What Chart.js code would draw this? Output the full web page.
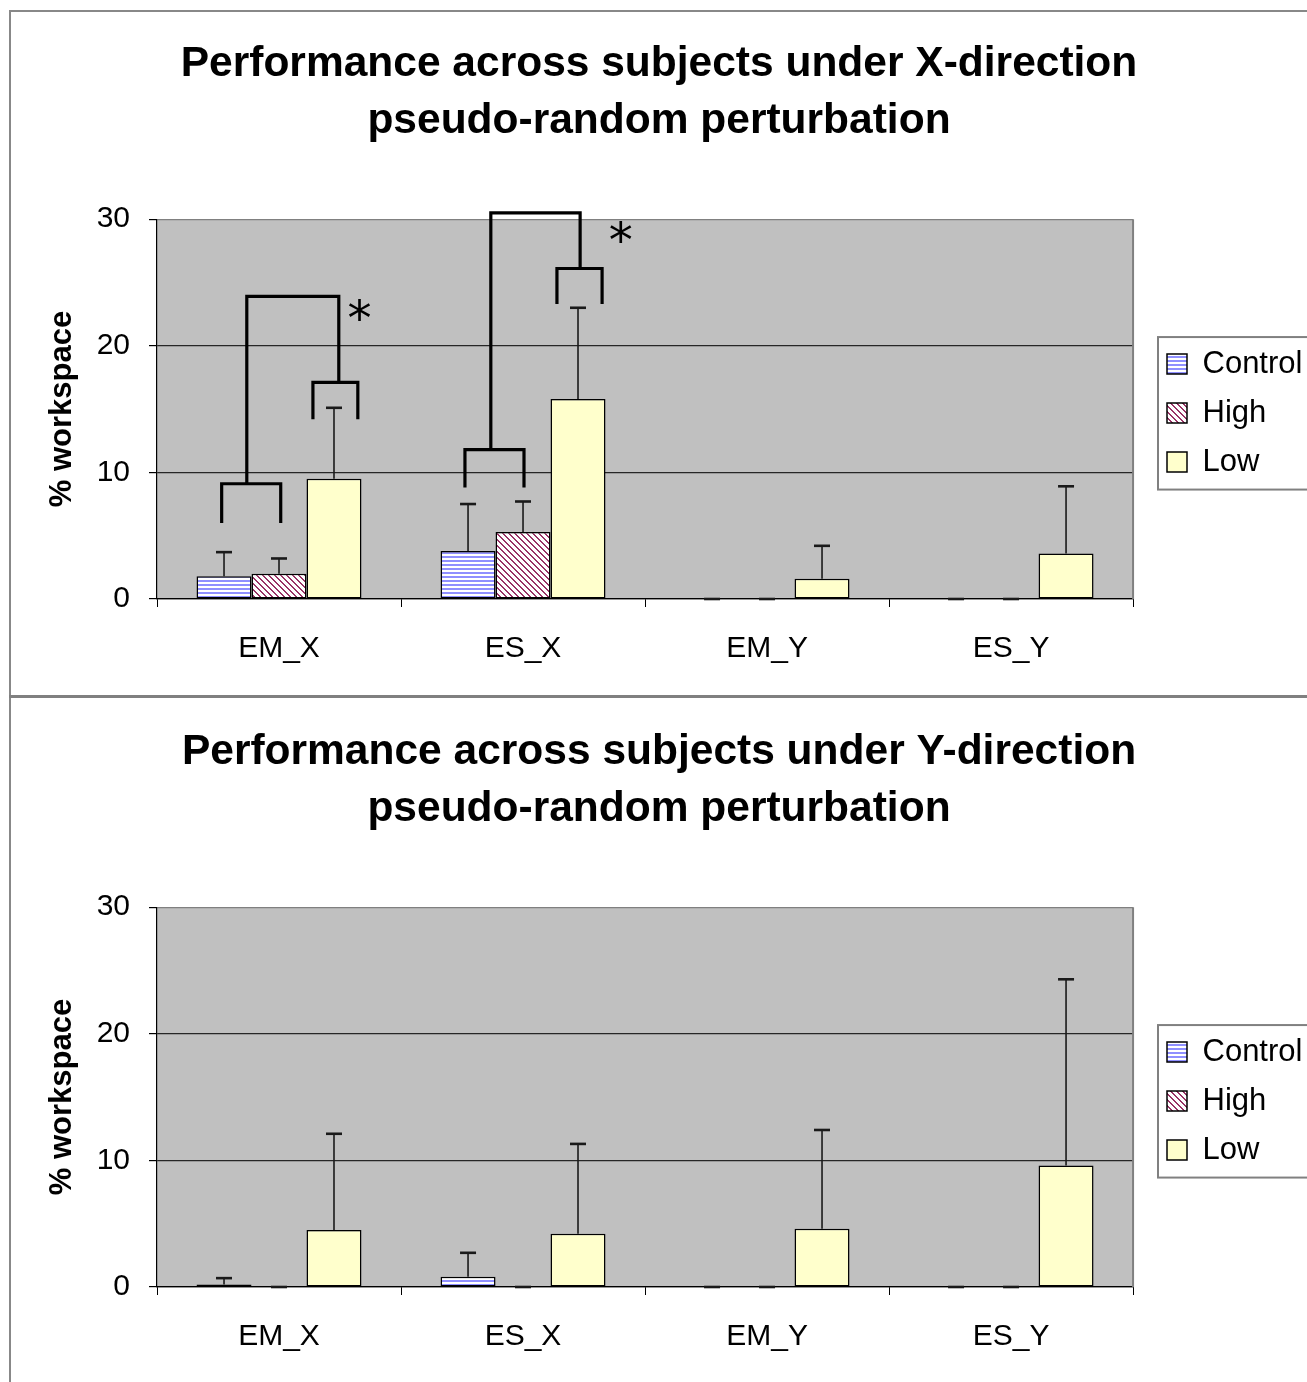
<!DOCTYPE html>
<html>
<head>
<meta charset="utf-8">
<script src="https://cdn.jsdelivr.net/npm/chart.js@4/dist/chart.umd.min.js"></script>
<style>
  html, body { margin:0; padding:0; background:#fff; }
  body { width:1307px; height:1382px; overflow:hidden; position:relative; }
  .frame { position:absolute; left:9px; top:10px; width:1298px; height:1372px;
           border-left:2px solid #888; border-top:2px solid #888; box-sizing:border-box; }
  .sep { position:absolute; left:9px; top:695px; width:1298px; height:3px; background:#808080; }
  .box { position:absolute; left:11px; width:1296px; height:683px; }
</style>
</head>
<body>
<div class="frame"></div>
<div class="sep"></div>
<div class="box" style="top:12px"><canvas id="c1" width="1296" height="683"></canvas></div>
<div class="box" style="top:700px"><canvas id="c2" width="1296" height="683"></canvas></div>
<script>
// ---------- data ----------
const categories = ['EM_X', 'ES_X', 'EM_Y', 'ES_Y'];
const seriesNames = ['Control', 'High', 'Low'];
const yTicks = [0, 10, 20, 30];

const titleX = ['Performance across subjects under X-direction', 'pseudo-random perturbation'];
const titleY = ['Performance across subjects under Y-direction', 'pseudo-random perturbation'];

// X-direction perturbation (mean and + error)
const xControl    = [1.8, 3.8, 0, 0];
const xControlErr = [1.9, 3.7, 0, 0];
const xHigh       = [2.0, 5.3, 0, 0];
const xHighErr    = [1.2, 2.4, 0, 0];
const xLow        = [9.5, 15.8, 1.6, 3.6];
const xLowErr     = [5.6, 7.2, 2.6, 5.3];

// Y-direction perturbation
const yControl    = [0.2, 0.8, 0, 0];
const yControlErr = [0.5, 1.9, 0, 0];
const yHigh       = [0, 0, 0, 0];
const yHighErr    = [0, 0, 0, 0];
const yLow        = [4.5, 4.2, 4.6, 9.6];
const yLowErr     = [7.6, 7.1, 7.8, 14.7];

// significance brackets (top chart), in data coordinates (x = category index units)
const bracketX1    = [-0.235, 0.139, -0.132, 0.762, 1.139, 0.868];
const bracketX2    = [ 0.007, 0.323,  0.245, 1.004, 1.324, 1.234];
const bracketLegY1 = [ 6.0, 14.2,  9.1,  8.8, 23.3, 11.8];
const bracketLegY2 = [ 6.0, 14.2, 17.1,  8.8, 23.3, 26.1];
const bracketTopY  = [ 9.1, 17.1, 23.9, 11.8, 26.1, 30.5];
const starX = [0.33, 1.40];
const starY = [22.8, 29.0];

// ---------- styles ----------
const FONT = "'Liberation Sans', Arial, sans-serif";

function hStripes() {
  const c = document.createElement('canvas'); c.width = 4; c.height = 4;
  const g = c.getContext('2d');
  g.fillStyle = '#ffffff'; g.fillRect(0, 0, 4, 4);
  g.fillStyle = '#8f8fff'; g.fillRect(0, 0, 4, 2);
  return g.createPattern(c, 'repeat');
}
function dStripes() {
  const n = 6;
  const c = document.createElement('canvas'); c.width = n; c.height = n;
  const g = c.getContext('2d');
  g.fillStyle = '#ffffff'; g.fillRect(0, 0, n, n);
  g.fillStyle = '#993366';
  for (let i = 0; i < n; i++) for (let j = 0; j < n; j++) {
    if ((((i - j) % n) + n) % n < 2) g.fillRect(i, j, 1, 1);
  }
  return g.createPattern(c, 'repeat');
}

const plotBg = {
  id: 'plotBg',
  beforeDraw(chart) {
    const a = chart.chartArea, ctx = chart.ctx;
    ctx.save();
    ctx.fillStyle = '#c0c0c0';
    ctx.fillRect(a.left, a.top, a.right - a.left, a.bottom - a.top);
    ctx.restore();
  },
  afterDraw(chart) {
    const a = chart.chartArea, ctx = chart.ctx;
    ctx.save();
    ctx.strokeStyle = '#808080'; ctx.lineWidth = 2;
    ctx.beginPath(); ctx.moveTo(a.right, a.top); ctx.lineTo(a.right, a.bottom); ctx.stroke();
    ctx.restore();
  }
};

const boxPlace = {
  id: 'boxPlace',
  afterLayout(chart) {
    const lg = chart.legend;
    const pad = lg.options.labels.padding;
    const w = lg.width;
    lg.left = 1156 - pad;
    lg.right = lg.left + w;
    lg.top = chart.chartArea.top + 4;
    lg.bottom = chart.chartArea.bottom + 4;
    lg.height = lg.bottom - lg.top;
    const t = chart.titleBlock;
    if (t) { t.left = 0; t.right = chart.width; t.width = chart.width; }
  },
  afterDraw(chart) {
    const lg = chart.legend, hb = lg.legendHitBoxes;
    if (!hb || !hb.length) return;
    const ctx = chart.ctx;
    const top = hb[0].top - 11.5;
    const bottom = hb[hb.length - 1].top + hb[hb.length - 1].height + 12;
    const left = hb[0].left - 9;
    ctx.save();
    ctx.strokeStyle = '#808080'; ctx.lineWidth = 2;
    ctx.strokeRect(left, top, chart.width + 10 - left, bottom - top);
    ctx.restore();
  }
};

const errorBars = {
  id: 'errorBars',
  afterDatasetsDraw(chart) {
    const ctx = chart.ctx, ys = chart.scales.y;
    ctx.save();
    chart.data.datasets.forEach((ds, i) => {
      const meta = chart.getDatasetMeta(i);
      meta.data.forEach((el, j) => {
        const v = ds.data[j], e = ds.errors[j];
        const yTop = ys.getPixelForValue(v + e);
        const yBar = ys.getPixelForValue(v);
        ctx.strokeStyle = '#1a1a1a';
        ctx.lineWidth = 1.6;
        ctx.beginPath(); ctx.moveTo(el.x, yBar); ctx.lineTo(el.x, yTop); ctx.stroke();
        ctx.lineWidth = 2.6;
        ctx.beginPath(); ctx.moveTo(el.x - 8, yTop); ctx.lineTo(el.x + 8, yTop); ctx.stroke();
      });
    });
    ctx.restore();
  }
};

const sigBrackets = {
  id: 'sigBrackets',
  afterDraw(chart, args, opts) {
    if (!opts.show) return;
    const ctx = chart.ctx, xs = chart.scales.x, ys = chart.scales.y;
    ctx.save();
    ctx.strokeStyle = '#000'; ctx.lineWidth = 3.2; ctx.lineJoin = 'miter'; ctx.lineCap = 'butt';
    for (let k = 0; k < bracketX1.length; k++) {
      const x1 = xs.getPixelForValue(bracketX1[k]);
      const x2 = xs.getPixelForValue(bracketX2[k]);
      ctx.beginPath();
      ctx.moveTo(x1, ys.getPixelForValue(bracketLegY1[k]));
      ctx.lineTo(x1, ys.getPixelForValue(bracketTopY[k]));
      ctx.lineTo(x2, ys.getPixelForValue(bracketTopY[k]));
      ctx.lineTo(x2, ys.getPixelForValue(bracketLegY2[k]));
      ctx.stroke();
    }
    ctx.fillStyle = '#000';
    ctx.font = "48px 'DejaVu Sans', sans-serif";
    ctx.textAlign = 'center';
    ctx.textBaseline = 'alphabetic';
    for (let k = 0; k < starX.length; k++) {
      const m = ctx.measureText('*');
      const cx = xs.getPixelForValue(starX[k]);
      const cy = ys.getPixelForValue(starY[k]);
      const off = (m.actualBoundingBoxAscent - m.actualBoundingBoxDescent) / 2;
      ctx.fillText('*', cx, cy + off);
    }
    ctx.restore();
  }
};

function makeChart(id, title, ctrl, ctrlErr, high, highErr, low, lowErr, showBrackets) {
  const ctrlPat = hStripes(), highPat = dStripes();
  return new Chart(document.getElementById(id), {
    type: 'bar',
    data: {
      labels: categories,
      datasets: [
        { label: seriesNames[0], data: ctrl, errors: ctrlErr, backgroundColor: ctrlPat, borderColor: '#000', borderWidth: 1.5 },
        { label: seriesNames[1], data: high, errors: highErr, backgroundColor: highPat, borderColor: '#000', borderWidth: 1.5 },
        { label: seriesNames[2], data: low, errors: lowErr, backgroundColor: '#ffffcc', borderColor: '#000', borderWidth: 1.5 }
      ]
    },
    options: {
      responsive: false,
      animation: false,
      devicePixelRatio: 1,
      datasets: { bar: { categoryPercentage: 0.676, barPercentage: 1.0, borderSkipped: false } },
      layout: { padding: { left: 0, right: 10.5, top: 0, bottom: 0 } },
      plugins: {
        title: {
          display: true, text: title, color: '#000',
          font: { family: FONT, size: 42.5, weight: 'bold', lineHeight: 1.345 },
          padding: { top: 23.4, bottom: 69.4 }
        },
        legend: {
          display: true, position: 'right',
          labels: { color: '#000', font: { family: FONT, size: 31 }, boxWidth: 20, boxHeight: 20, padding: 18 }
        },
        tooltip: { enabled: false },
        sigBrackets: { show: showBrackets }
      },
      scales: {
        x: {
          grid: { drawOnChartArea: false, drawTicks: true, tickLength: 8, color: '#000', offset: true },
          border: { display: true, color: '#000', width: 1.2 },
          ticks: { color: '#000', font: { family: FONT, size: 30 }, padding: 24 },
          afterFit(s) { s.height = 96; }
        },
        y: {
          min: 0, max: 30,
          afterBuildTicks(s) { s.ticks = yTicks.map(v => ({ value: v })); },
          grid: {
            color: (c) => (c.tick && c.tick.value === 30 ? '#808080' : '#262626'),
            lineWidth: 1.2, tickLength: 8, tickColor: '#000'
          },
          border: { display: true, color: '#000', width: 1.2 },
          ticks: { color: '#000', font: { family: FONT, size: 30 }, padding: 19 },
          title: {
            display: true, text: '% workspace', color: '#000',
            font: { family: FONT, size: 31, weight: 'bold' },
            padding: { top: 33, bottom: 0 }
          },
          afterFit(s) { s.width = 146; }
        }
      }
    },
    plugins: [plotBg, boxPlace, errorBars, sigBrackets]
  });
}

makeChart('c1', titleX, xControl, xControlErr, xHigh, xHighErr, xLow, xLowErr, true);
makeChart('c2', titleY, yControl, yControlErr, yHigh, yHighErr, yLow, yLowErr, false);
</script>
</body>
</html>
